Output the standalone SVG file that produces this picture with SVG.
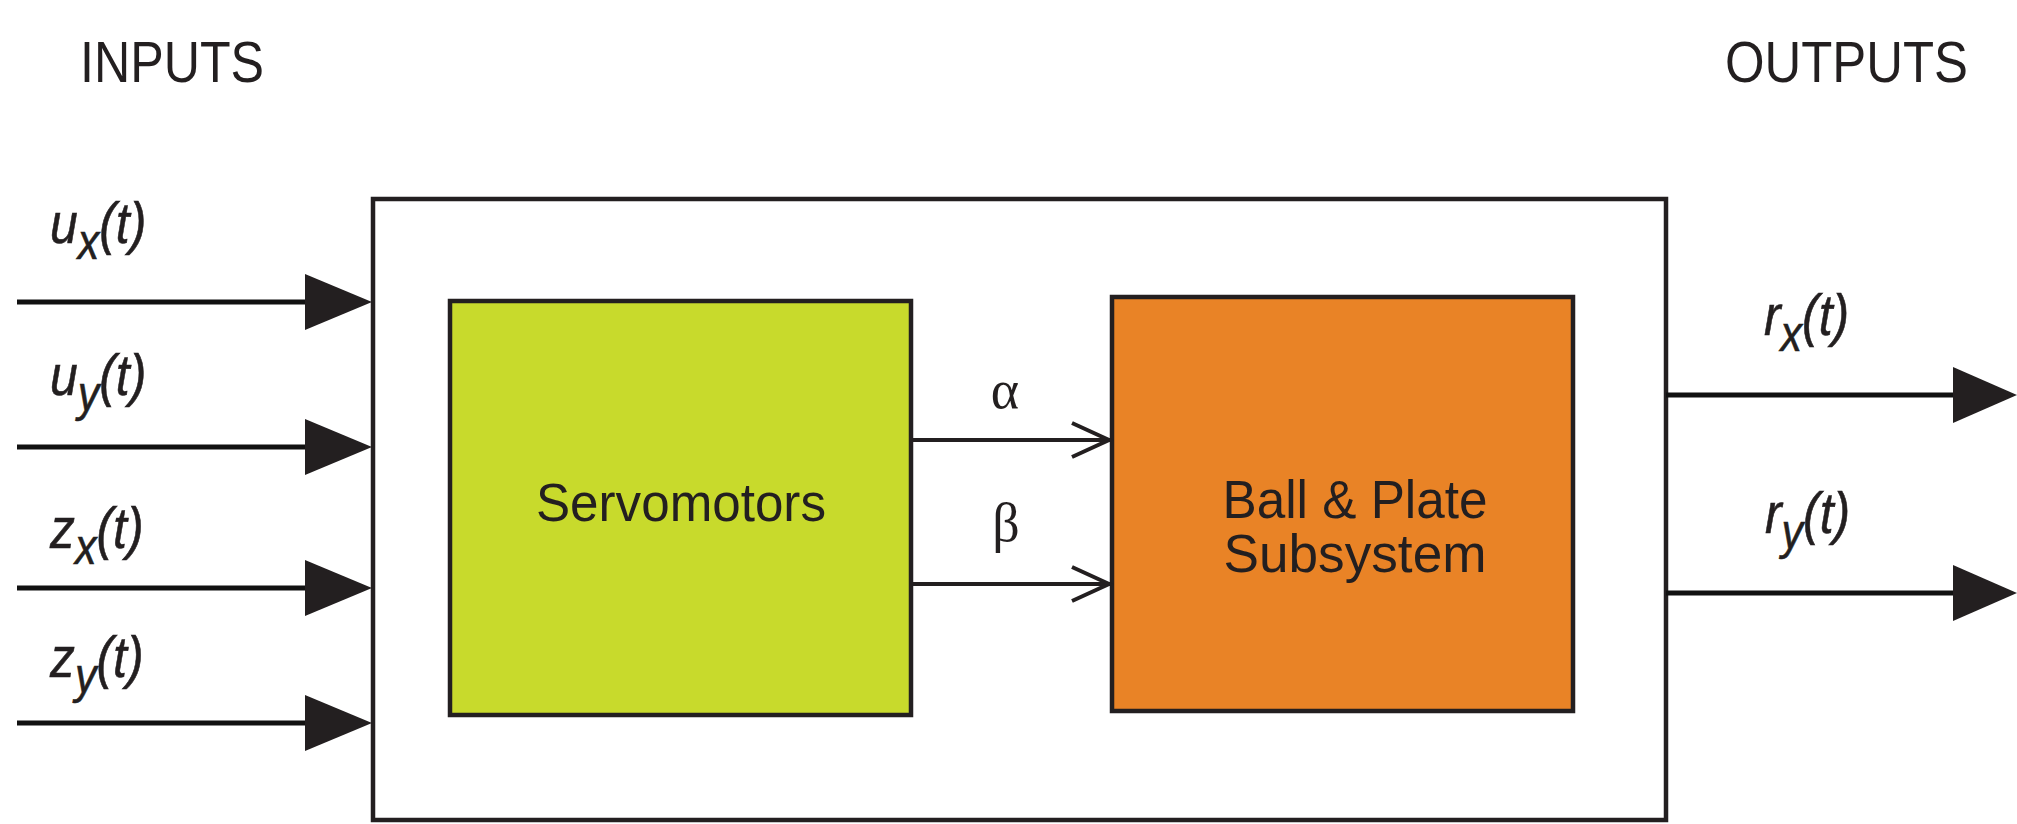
<svg xmlns="http://www.w3.org/2000/svg" width="2017" height="824" viewBox="0 0 2017 824">
  <style>
    .sans { font-family: "Liberation Sans", Arial, sans-serif; fill: #231f20; }
    .head { font-size: 58px; }
    .sig { font-size: 58px; font-style: italic; stroke: #231f20; stroke-width: 0.6; }
    .sub { font-size: 50px; }
    .blk { font-size: 54px; }
    .greek { font-family: "Liberation Serif", "Times New Roman", serif; font-size: 54px; fill: #231f20; }
    .box { stroke: #231f20; stroke-width: 4.5; }
    .wire { stroke: #111; stroke-width: 5; fill: none; }
    .thin { stroke: #231f20; stroke-width: 4; fill: none; }
    .head-fill { fill: #231f20; }
  </style>

  <rect width="2017" height="824" fill="#ffffff"/>

  <!-- section titles -->
  <g id="titles">
    <text class="sans head" x="80" y="82" textLength="184" lengthAdjust="spacingAndGlyphs">INPUTS</text>
    <text class="sans head" x="1725" y="82" textLength="243" lengthAdjust="spacingAndGlyphs">OUTPUTS</text>
  </g>

  <!-- overall system boundary -->
  <g id="system">
    <rect class="box" x="373" y="199" width="1293" height="621" fill="#ffffff"/>
  </g>

  <!-- servo actuator block -->
  <g id="servomotors">
    <rect class="box" x="450" y="301" width="461" height="414" fill="#c8da2c"/>
    <text class="sans blk" x="681" y="521" text-anchor="middle" textLength="290" lengthAdjust="spacingAndGlyphs">Servomotors</text>
  </g>

  <!-- plant block -->
  <g id="ball-plate">
    <rect class="box" x="1112" y="297" width="461" height="414" fill="#e98326"/>
    <text class="sans blk" x="1355" y="518" text-anchor="middle" textLength="265" lengthAdjust="spacingAndGlyphs">Ball &amp; Plate</text>
    <text class="sans blk" x="1355" y="572" text-anchor="middle" textLength="263" lengthAdjust="spacingAndGlyphs">Subsystem</text>
  </g>

  <!-- signal connectors -->
  <g id="connectors">
    <!-- inputs -->
    <line class="wire" x1="17" y1="302" x2="306" y2="302"/>
    <polygon class="head-fill" points="305,274 372,302 305,330"/>
    <line class="wire" x1="17" y1="447" x2="306" y2="447"/>
    <polygon class="head-fill" points="305,419 372,447 305,475"/>
    <line class="wire" x1="17" y1="588" x2="306" y2="588"/>
    <polygon class="head-fill" points="305,560 372,588 305,616"/>
    <line class="wire" x1="17" y1="723" x2="306" y2="723"/>
    <polygon class="head-fill" points="305,695 372,723 305,751"/>

    <!-- servo angles to plant -->
    <line class="thin" x1="911" y1="440" x2="1110" y2="440"/>
    <polyline class="thin" points="1072,423 1109,440 1072,457"/>
    <line class="thin" x1="911" y1="584" x2="1110" y2="584"/>
    <polyline class="thin" points="1072,567 1109,584 1072,601"/>

    <!-- outputs -->
    <line class="wire" x1="1666" y1="395" x2="1954" y2="395"/>
    <polygon class="head-fill" points="1953,367 2017,395 1953,423"/>
    <line class="wire" x1="1666" y1="593" x2="1954" y2="593"/>
    <polygon class="head-fill" points="1953,565 2017,593 1953,621"/>
  </g>

  <!-- signal labels -->
  <g id="signal-labels">
    <text class="sans sig" transform="translate(50,243) scale(0.86,1)">u<tspan class="sub" dy="16">x</tspan><tspan dy="-16">(t)</tspan></text>
    <text class="sans sig" transform="translate(50,395) scale(0.86,1)">u<tspan class="sub" dy="16">y</tspan><tspan dy="-16">(t)</tspan></text>
    <text class="sans sig" transform="translate(50,548) scale(0.86,1)">z<tspan class="sub" dy="16">x</tspan><tspan dy="-16">(t)</tspan></text>
    <text class="sans sig" transform="translate(50,677) scale(0.86,1)">z<tspan class="sub" dy="16">y</tspan><tspan dy="-16">(t)</tspan></text>
    <text class="sans sig" transform="translate(1764,335) scale(0.86,1)">r<tspan class="sub" dy="16">x</tspan><tspan dy="-16">(t)</tspan></text>
    <text class="sans sig" transform="translate(1765,533) scale(0.86,1)">r<tspan class="sub" dy="16">y</tspan><tspan dy="-16">(t)</tspan></text>
    <text class="greek" x="1005" y="408" text-anchor="middle">α</text>
    <text class="greek" x="1006" y="541" text-anchor="middle">β</text>
  </g>
</svg>
